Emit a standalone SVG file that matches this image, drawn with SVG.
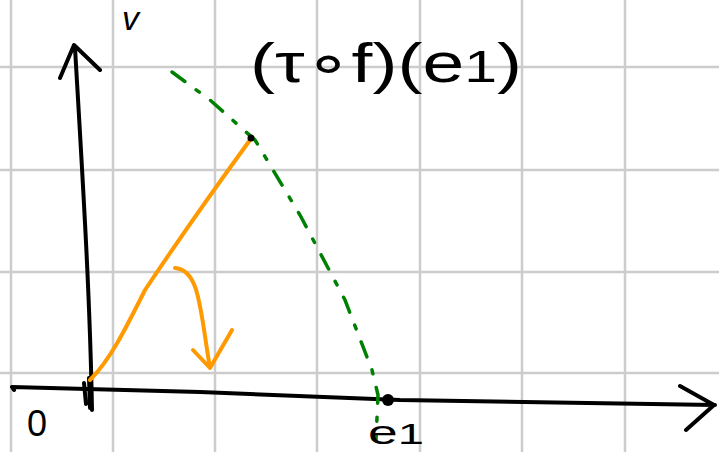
<svg xmlns="http://www.w3.org/2000/svg" width="719" height="452" viewBox="0 0 719 452">
<style>
.grid{stroke:#cccccc;stroke-width:2.5;fill:none}
.ink{stroke:#000;stroke-width:4;fill:none;stroke-linecap:round;stroke-linejoin:round}
.orange{stroke:#ff9900;stroke-width:4;fill:none;stroke-linecap:round;stroke-linejoin:round}
.green{stroke:#008000;stroke-width:3.5;fill:none;stroke-linecap:round;stroke-dasharray:16 14 4 14}
.hand{font-family:"Liberation Sans","DejaVu Sans",sans-serif;fill:#000}
</style>
<rect width="719" height="452" fill="#fff"/>
<g id="grid">
<path class="grid" d="M11 0V452M113 0V452M215 0V452M317 0V452M420 0V452M522 0V452M625 0V452M0 67H719M0 170H719M0 272H719M0 373H719"/>
</g>
<g id="connectors">
<path id="y-axis" class="ink" d="M92 410C90 300 84 200 75 48M60 78L74 45L100 70"/>
<path id="y-axis-tick" class="ink" d="M84 383L86 404M89 378L90 408"/>
<path id="x-axis" class="ink" d="M14 390L12 387L200 392L400 400L715 405M680 386L714 405L686 430"/>
<path id="vector" class="orange" d="M90 380C110 360 125 330 145 290C175 245 210 195 250 140"/>
<path id="rotation" class="orange" d="M175 268C200 270 200 310 210 368M193 350L210 368L232 330"/>
<path id="dashed" class="green" d="M172 72L210 100L255 140L300 215L345 300L372 370L378 395L376 440"/>
</g>
<g id="tip">
<circle cx="251" cy="138" r="3.5" fill="#000"/>
</g>
<g id="e1-point">
<circle cx="388" cy="400" r="6" fill="#000"/>
</g>
<g id="label-v">
<text class="hand" x="122" y="30" font-size="34" font-style="italic">v</text>
</g>
<g id="label-tf">
<text class="hand" x="250" y="82" font-size="56" textLength="272" lengthAdjust="spacingAndGlyphs">(τ∘f)(e<tspan font-size="44">1</tspan>)</text>
</g>
<g id="label-0">
<text class="hand" x="27" y="436" font-size="36">0</text>
</g>
<g id="label-e1">
<text class="hand" x="368" y="444" font-size="34" textLength="56" lengthAdjust="spacingAndGlyphs">e<tspan font-size="30">1</tspan></text>
</g>
</svg>
